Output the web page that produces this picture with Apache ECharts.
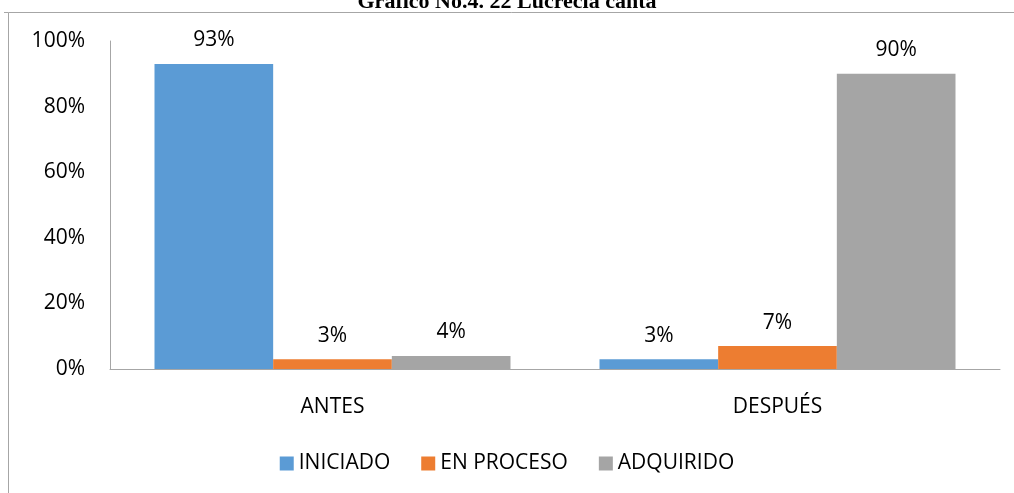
<!DOCTYPE html>
<html>
<head>
<meta charset="utf-8">
<script src="https://cdn.jsdelivr.net/npm/echarts@6/dist/echarts.min.js"></script>
<style>
    html, body { margin: 0; padding: 0; background: #fff; }
    #chart { width: 1014px; height: 493px; }
</style>
</head>
<body>
<div id="chart"></div>
<script>
// datos del gráfico
const categories = ['ANTES', 'DESPUÉS'];
const seriesNames = ['INICIADO', 'EN PROCESO', 'ADQUIRIDO'];
const iniciado = [93, 3];
const enProceso = [3, 7];
const adquirido = [4, 90];
const yTicks = [0, 20, 40, 60, 80, 100];

const colors = ['#5B9BD5', '#ED7D31', '#A5A5A5'];
const FONT = '"Open Sans", "Liberation Sans", sans-serif';

const chart = echarts.init(document.getElementById('chart'));

function makeSeries(name, data, color) {
    return {
        name: name,
        type: 'bar',
        data: data,
        barGap: '0%',
        barCategoryGap: '20%',
        itemStyle: { color: color },
        label: {
            show: true,
            position: 'top',
            distance: 13,
            formatter: (p) => p.value + '%',
            color: '#000',
            fontFamily: FONT,
            fontSize: 21,
        },
    };
}

chart.setOption({
    animation: false,
    title: {
        text: 'Gráfico No.4. 22 Lucrecia canta',
        left: 'center',
        top: -14,
        textStyle: {
            fontFamily: '"Liberation Serif", serif',
            fontWeight: 'bold',
            fontSize: 22,
            color: '#000',
        },
    },
    graphic: [
        {
            type: 'polyline',
            shape: { points: [[4, 12.5], [8.5, 12.5], [8.5, 500]] },
            style: { stroke: '#a6a6a6', lineWidth: 1, fill: null },
        },
        {
            type: 'line',
            shape: { x1: 8.5, y1: 12.5, x2: 1014, y2: 12.5 },
            style: { stroke: '#a6a6a6', lineWidth: 1 },
        },
    ],
    legend: {
        data: seriesNames,
        bottom: 14,
        left: 'center',
        itemWidth: 14,
        itemHeight: 14,
        itemGap: 31,
        icon: 'rect',
        textStyle: { fontFamily: FONT, fontSize: 21, color: '#000' },
    },
    grid: { left: 110, right: 14, top: 41, bottom: 124, containLabel: false },
    xAxis: {
        type: 'category',
        data: categories,
        axisLine: { lineStyle: { color: '#a6a6a6', width: 1 } },
        axisTick: { show: false },
        axisLabel: { fontFamily: FONT, fontSize: 21, color: '#000', margin: 28 },
    },
    yAxis: {
        type: 'value',
        min: yTicks[0],
        max: yTicks[yTicks.length - 1],
        interval: 20,
        axisLine: { show: true, lineStyle: { color: '#a6a6a6', width: 1 } },
        axisTick: { show: false },
        splitLine: { show: false },
        axisLabel: {
            fontFamily: FONT,
            fontSize: 21,
            color: '#000',
            margin: 25,
            formatter: (v) => v + '%',
        },
    },
    series: [
        makeSeries(seriesNames[0], iniciado, colors[0]),
        makeSeries(seriesNames[1], enProceso, colors[1]),
        makeSeries(seriesNames[2], adquirido, colors[2]),
    ],
});
</script>
</body>
</html>
